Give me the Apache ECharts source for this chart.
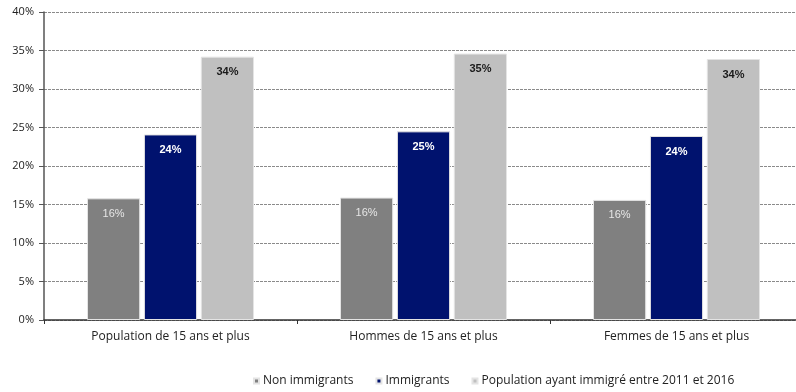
<!DOCTYPE html>
<html>
<head>
<meta charset="utf-8">
<script src="https://cdn.jsdelivr.net/npm/echarts@6/dist/echarts.min.js"></script>
<style>
  html, body { margin: 0; padding: 0; background: #fff; }
  #chart { width: 796px; height: 392px; }
</style>
</head>
<body>
<div id="chart"></div>
<script>
// Groups along the x axis
const categories = ['Population de 15 ans et plus', 'Hommes de 15 ans et plus', 'Femmes de 15 ans et plus'];
// Shares (%) per group
const nonImmigrants = [15.8, 15.9, 15.6];
const immigrants = [24.1, 24.5, 23.9];
const recentImmigrants = [34.2, 34.6, 33.9];
const seriesNames = ['Non immigrants', 'Immigrants', 'Population ayant immigré entre 2011 et 2016'];
const yTicks = [0, 5, 10, 15, 20, 25, 30, 35, 40];

const uiFont = '"Open Sans", Lato, sans-serif';
const labelFont = '"Liberation Sans", Arial, sans-serif';

function barSeries(name, data, color, labelColor, weight) {
  return {
    name: name,
    type: 'bar',
    data: data,
    barGap: '7%',
    barCategoryGap: '34%',
    itemStyle: { color: color, borderColor: '#e4e4e4', borderWidth: 1 },
    label: {
      show: true,
      position: 'insideTop',
      distance: 10,
      color: labelColor,
      fontFamily: labelFont,
      fontSize: 11,
      fontWeight: weight,
      formatter: p => Math.round(p.value) + '%'
    }
  };
}

const chart = echarts.init(document.getElementById('chart'), null, { renderer: 'canvas' });
chart.setOption({
  animation: false,
  grid: { left: 44, width: 759, top: 12, height: 308, containLabel: false, outerBoundsMode: 'none' },
  legend: {
    left: 248,
    top: 370,
    itemWidth: 5,
    itemHeight: 5,
    itemGap: 22,
    icon: 'rect',
    textStyle: { fontFamily: uiFont, fontSize: 12, color: '#222', padding: [0, 0, 0, -1] },
    data: seriesNames
  },
  xAxis: {
    type: 'category',
    data: categories,
    axisLine: { lineStyle: { color: '#333', width: 1.5 } },
    axisTick: { show: true, length: 4, inside: false, lineStyle: { color: '#333' } },
    axisLabel: { fontFamily: uiFont, fontSize: 12, color: '#222', margin: 11 }
  },
  yAxis: {
    type: 'value',
    min: yTicks[0],
    max: yTicks[yTicks.length - 1],
    interval: 5,
    axisLine: { show: true, lineStyle: { color: '#555', width: 1.5 } },
    axisTick: { show: true, length: 5, lineStyle: { color: '#555' } },
    axisLabel: { fontFamily: uiFont, fontSize: 11, color: '#222', margin: 10, formatter: v => v + '%' },
    splitLine: { show: true, lineStyle: { color: '#8a8a8a', type: [3, 1], width: 1 } }
  },
  series: [
    barSeries(seriesNames[0], nonImmigrants, '#808080', '#e6e6e6', 'normal'),
    barSeries(seriesNames[1], immigrants, '#00126e', '#ffffff', 'bold'),
    barSeries(seriesNames[2], recentImmigrants, '#c0c0c0', '#1a1a1a', 'bold')
  ]
});
</script>
</body>
</html>
